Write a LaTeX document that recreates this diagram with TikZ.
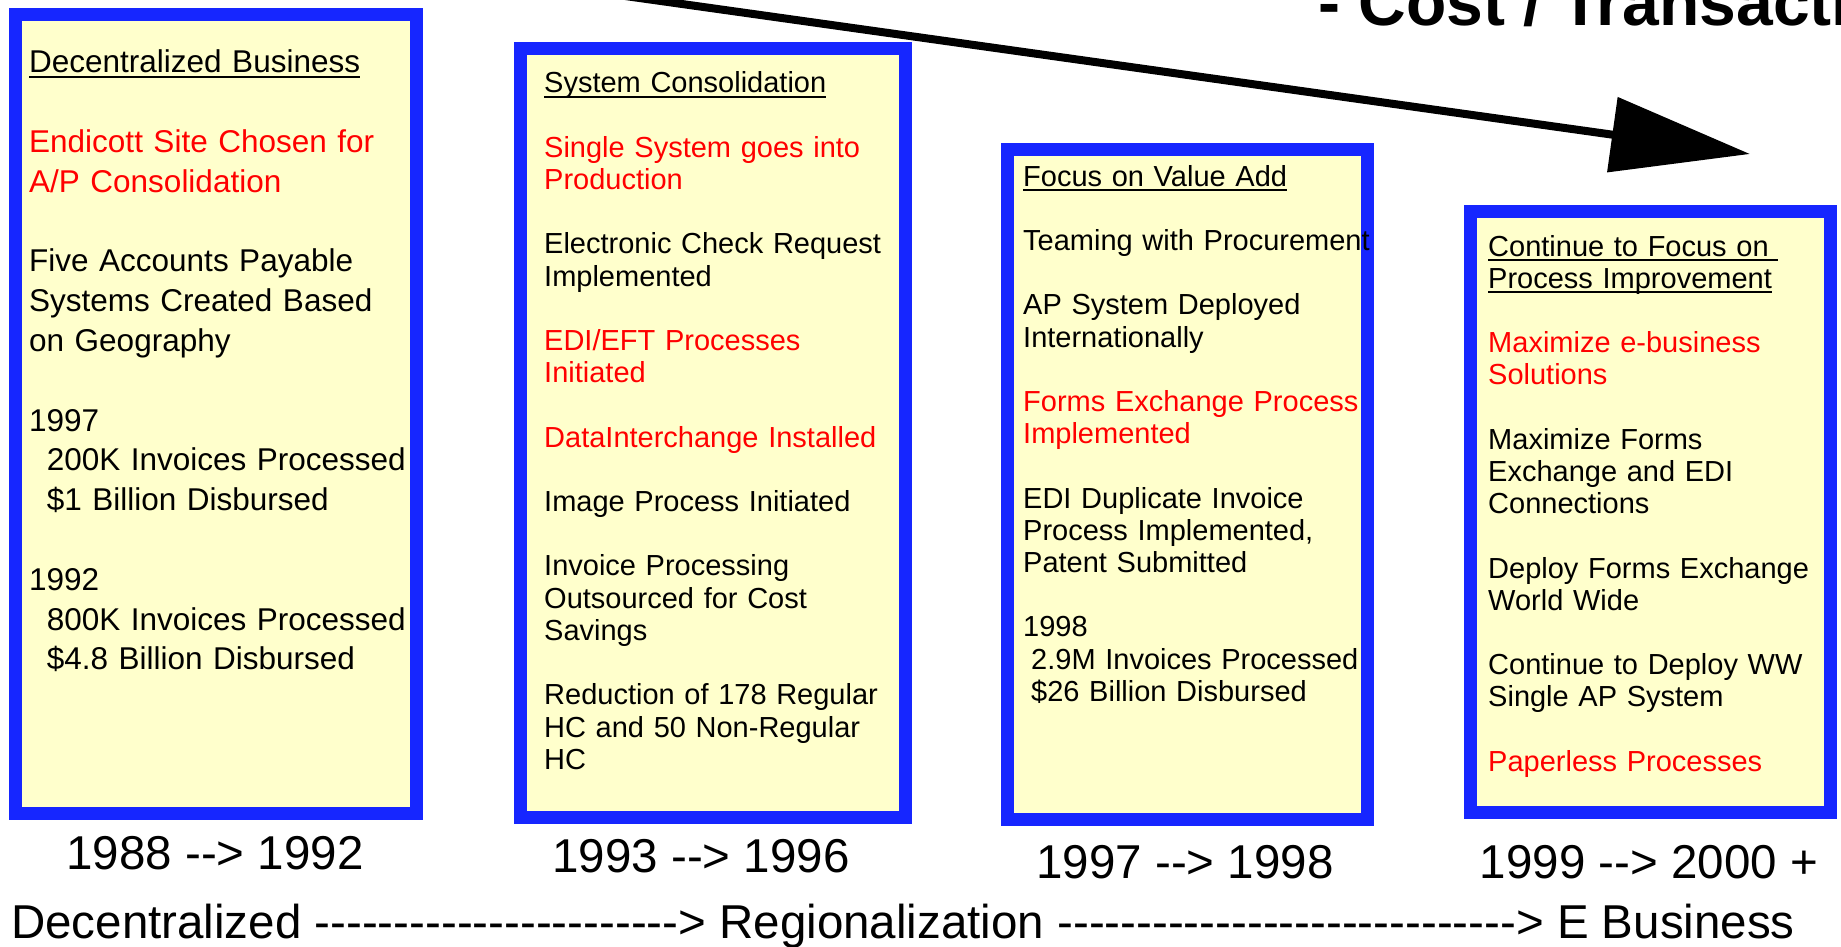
\documentclass[tikz,border=0pt]{standalone}
\usepackage{fontspec}
\setmainfont{Liberation Sans}[Ligatures=TeXOff]
\usepackage{xcolor}
\usetikzlibrary{arrows.meta,positioning}

\definecolor{frameblue}{RGB}{22,38,255}
\definecolor{noteyellow}{RGB}{255,255,204}
\definecolor{apred}{RGB}{255,0,0}

\newsavebox{\headbox}
\newcommand{\headline}[1]{\leavevmode\sbox{\headbox}{#1}\rlap{\rule[-5pt]{\wd\headbox}{2pt}}\usebox{\headbox}}
\newcommand{\skipline}{\\[\baselineskip]}
\newcommand{\lead}{\hspace*{17.6pt}}

\tikzset{
  panel/.style={line width=13pt, draw=frameblue, fill=noteyellow},
  bignote/.style={anchor=base west, inner sep=0pt, text width=400pt, align=left,
    font=\fontsize{31.5pt}{39.8pt}\selectfont},
  note/.style={anchor=base west, inner sep=0pt, text width=400pt, align=left,
    font=\fontsize{29pt}{32.2pt}\selectfont},
  yearspan/.style={anchor=base, inner sep=0pt, font=\fontsize{47.5pt}{50pt}\selectfont},
  trend/.style={line width=8pt, -{Triangle[length=139pt,width=74pt]}},
}

\begin{document}
\begin{tikzpicture}[x=1pt,y=-1pt]
  \useasboundingbox (0,0) rectangle (1841,947);
  \clip (0,0) rectangle (1841,947);

  % Drawing the trend arrow and its heading
  \coordinate (trend start) at (561,-13);
  \coordinate (trend end) at (1750,154);
  \draw[trend] (trend start) -- (trend end);
  \node[anchor=base west, inner sep=0pt, font=\fontsize{66pt}{72pt}\selectfont\bfseries]
    (heading) at (1318,26) {- Cost / Transaction};

  % Drawing panel 1988 --> 1992
  \draw[panel] (15.5,14.5) rectangle (416.5,813.5);
  \node[bignote] (decentral) at (29,73) {%
    \headline{Decentralized Business}\skipline
    {\color{apred}Endicott Site Chosen for\\A/P Consolidation}\skipline
    Five Accounts Payable\\Systems Created Based\\on Geography\skipline
    1997\\\lead 200K Invoices Processed\\\lead \$1 Billion Disbursed\skipline
    1992\\\lead 800K Invoices Processed\\\lead \$4.8 Billion Disbursed};

  % Drawing panel 1993 --> 1996
  \draw[panel] (520.5,48.5) rectangle (905.5,817.5);
  \node[note] (consol) at (544,93) {%
    \headline{System Consolidation}\skipline
    {\color{apred}Single System goes into\\Production}\skipline
    Electronic Check Request\\Implemented\skipline
    {\color{apred}EDI/EFT Processes\\Initiated}\skipline
    {\color{apred}DataInterchange Installed}\skipline
    Image Process Initiated\skipline
    Invoice Processing\\Outsourced for Cost\\Savings\skipline
    Reduction of 178 Regular\\HC and 50 Non-Regular\\HC};

  % Drawing panel 1997 --> 1998
  \draw[panel] (1007.5,149.5) rectangle (1367.5,819.5);
  \node[note] (valueadd) at (1023,186) {%
    \headline{Focus on Value Add}\skipline
    Teaming with Procurement\skipline
    AP System Deployed\\Internationally\skipline
    {\color{apred}Forms Exchange Process\\Implemented}\skipline
    EDI Duplicate Invoice\\Process Implemented,\\Patent Submitted\skipline
    1998\\\hspace*{8pt}2.9M Invoices Processed\\\hspace*{8pt}\$26 Billion Disbursed};

  % Drawing panel 1999 --> 2000 +
  \draw[panel] (1470.5,211.5) rectangle (1830.5,812.5);
  \node[note] (improve) at (1488,256) {%
    \headline{Continue to Focus on\ }\\\headline{Process Improvement}\skipline
    {\color{apred}Maximize e-business\\Solutions}\skipline
    Maximize Forms\\Exchange and EDI\\Connections\skipline
    Deploy Forms Exchange\\World Wide\skipline
    Continue to Deploy WW\\Single AP System\skipline
    {\color{apred}Paperless Processes}};

  % Marking the year spans
  \node[yearspan] (span88) at (215,869) {1988 --> 1992};
  \node[yearspan] (span93) at (701,872) {1993 --> 1996};
  \node[yearspan] (span97) at (1185,878) {1997 --> 1998};
  \node[yearspan] (span99) at (1649,878) {1999 --> 2000 +};

  % Marking the phases
  \node[anchor=base west, inner sep=0pt, font=\fontsize{47.5pt}{50pt}\selectfont]
    (phases) at (11,938) {Decentralized -----------------------> Regionalization -----------------------------> E Business};
\end{tikzpicture}
\end{document}
